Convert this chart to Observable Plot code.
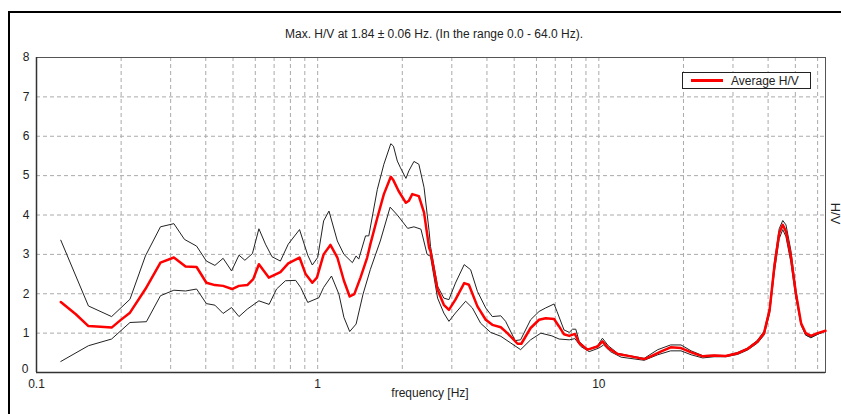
<!DOCTYPE html>
<html>
<head>
<meta charset="utf-8">
<script src="https://cdn.jsdelivr.net/npm/d3@7"></script>
<script src="https://cdn.jsdelivr.net/npm/@observablehq/plot@0.6"></script>
<style>
  html, body { margin: 0; padding: 0; background: #fff; overflow: hidden; }
  #wrap { position: relative; width: 841px; height: 414px; font-family: "Liberation Sans", Arial, sans-serif; }
  #frame { position: absolute; left: 8px; top: 11px; width: 900px; height: 500px; border: 2px solid #000; box-sizing: border-box; pointer-events: none; }
  #title { position: absolute; left: 0; width: 868px; top: 27px; text-align: center; font-size: 12px; color: #222; }
  #legend { position: absolute; left: 682px; top: 72px; width: 129px; height: 17px; box-sizing: border-box; border: 1px solid #222; background: #fff; }
  #legend .sw { position: absolute; left: 8px; top: 6px; width: 32px; height: 3px; background: #ff0000; }
  #legend .tx { position: absolute; left: 48px; top: 1px; font-size: 12px; color: #222; }
  #xlabel { position: absolute; left: 0; width: 860px; top: 386px; text-align: center; font-size: 12px; color: #222; }
  #ylabel { position: absolute; left: 817px; top: 206px; width: 36px; text-align: center; font-size: 13px; color: #222; transform: rotate(90deg); }
  #chart { position: absolute; left: 0; top: 0; }
</style>
</head>
<body>
<div id="wrap">
  <div id="chart"></div>
  <div id="frame"></div>
  <div id="title">Max. H/V at 1.84 ± 0.06 Hz. (In the range 0.0 - 64.0 Hz).</div>
  <div id="legend"><div class="sw"></div><div class="tx">Average H/V</div></div>
  <div id="xlabel">frequency [Hz]</div>
  <div id="ylabel">H/V</div>
</div>
<script>
// Upper (mean + std) curve
const upperF = [0.122,0.153,0.185,0.215,0.244,0.276,0.308,0.336,0.371,0.402,0.431,0.461,0.494,0.525,0.551,0.586,0.618,0.652,0.688,0.737,0.786,0.862,0.922,0.957,1.0,1.05,1.097,1.175,1.24,1.329,1.37,1.40,1.48,1.52,1.63,1.72,1.82,1.86,1.92,1.97,2.06,2.11,2.20,2.29,2.39,2.49,2.52,2.67,2.81,2.93,3.09,3.32,3.50,3.70,3.96,4.18,4.48,4.66,5.04,5.27,5.72,6.13,6.47,6.93,7.10,7.52,7.85,8.06,8.28,8.51,9.12,9.89,10.3,10.8,11.66,13.0,14.5,16.2,18.0,19.6,21.3,23.4,25.7,28.3,31.2,33.8,36.7,38.7,40.5,42.1,43.8,45.1,46.3,48.2,50.2,52.4,54.4,56.8,60,64];
const upperV = [3.36,1.69,1.42,1.86,2.96,3.70,3.78,3.38,3.21,2.83,2.72,2.90,2.58,2.98,2.85,3.02,3.65,3.26,2.94,2.83,3.26,3.63,2.98,2.73,2.92,3.85,4.10,3.34,3.00,2.79,2.96,2.88,3.47,3.47,4.65,5.29,5.81,5.75,5.37,5.20,4.93,5.12,5.36,5.29,4.70,3.60,3.20,2.19,1.89,1.85,2.27,2.74,2.61,2.06,1.64,1.42,1.44,1.30,0.81,0.83,1.34,1.55,1.64,1.74,1.55,1.08,1.02,1.10,1.10,0.79,0.58,0.68,0.87,0.68,0.49,0.42,0.36,0.58,0.70,0.70,0.55,0.43,0.44,0.43,0.51,0.62,0.82,1.05,1.65,2.80,3.65,3.86,3.75,3.10,2.10,1.25,0.95,0.90,0.97,1.06];

// Average H/V curve
const avgF = [0.122,0.138,0.153,0.169,0.185,0.199,0.215,0.244,0.276,0.308,0.339,0.371,0.402,0.431,0.461,0.496,0.525,0.562,0.59,0.618,0.67,0.737,0.786,0.862,0.906,0.957,0.994,1.05,1.11,1.175,1.24,1.30,1.35,1.42,1.50,1.54,1.63,1.72,1.82,1.86,1.94,2.06,2.11,2.17,2.29,2.39,2.49,2.52,2.67,2.81,2.93,3.09,3.32,3.45,3.70,3.96,4.18,4.48,4.73,5.14,5.30,5.72,6.13,6.47,6.93,7.22,7.52,7.85,8.22,8.51,9.12,9.89,10.3,10.8,11.66,13.0,14.5,15.3,16.6,18.0,19.6,21.3,23.4,25.7,28.3,31.2,33.8,36.7,38.7,40.5,42.1,43.8,45.1,46.3,48.2,50.2,52.4,54.4,56.8,60,64];
const avgV = [1.79,1.48,1.18,1.16,1.14,1.33,1.52,2.12,2.79,2.92,2.69,2.68,2.28,2.22,2.20,2.12,2.20,2.22,2.37,2.75,2.41,2.55,2.77,2.92,2.50,2.28,2.41,3.00,3.24,2.92,2.33,1.93,1.99,2.41,2.92,3.26,3.93,4.53,4.97,4.88,4.61,4.31,4.36,4.53,4.48,4.06,3.17,3.08,2.10,1.72,1.59,1.85,2.27,2.23,1.68,1.34,1.21,1.15,1.00,0.73,0.73,1.13,1.34,1.38,1.36,1.17,0.97,0.93,0.98,0.75,0.58,0.66,0.79,0.62,0.47,0.41,0.34,0.41,0.53,0.64,0.62,0.51,0.41,0.43,0.42,0.49,0.60,0.79,1.00,1.59,2.69,3.54,3.75,3.58,2.95,2.02,1.25,1.00,0.93,1.00,1.06];

// Lower (mean - std) curve
const lowerF = [0.122,0.153,0.185,0.215,0.246,0.276,0.308,0.339,0.371,0.402,0.431,0.461,0.494,0.525,0.562,0.618,0.672,0.714,0.768,0.835,0.87,0.922,1.01,1.05,1.12,1.19,1.24,1.30,1.37,1.45,1.54,1.67,1.81,1.92,2.09,2.20,2.33,2.45,2.52,2.67,2.81,2.93,3.09,3.36,3.55,3.80,4.12,4.48,4.86,5.27,5.72,6.22,6.81,7.22,7.85,8.22,8.63,9.24,10.0,10.4,11.0,12.0,14.5,16.2,18.0,19.6,21.3,23.4,25.7,28.3,31.2,33.8,36.7,38.7,40.5,42.1,43.8,45.1,46.3,48.2,50.2,52.4,54.4,56.8,60,64];
const lowerV = [0.28,0.68,0.85,1.27,1.29,1.95,2.09,2.07,2.12,1.75,1.71,1.50,1.65,1.42,1.61,1.82,1.73,2.12,2.33,2.34,2.16,1.78,1.90,2.16,2.45,1.99,1.40,1.04,1.23,1.99,2.62,3.34,4.20,4.00,3.66,3.70,3.64,3.00,2.95,1.89,1.51,1.30,1.51,1.81,1.64,1.25,1.02,0.92,0.75,0.58,0.83,1.00,0.93,0.85,0.83,0.86,0.66,0.53,0.62,0.70,0.53,0.39,0.31,0.45,0.55,0.55,0.45,0.37,0.40,0.40,0.46,0.57,0.75,0.95,1.50,2.55,3.40,3.63,3.45,2.80,1.90,1.20,0.95,0.88,0.97,1.05];

// Axis ticks and grid values
const xTickLabels = [0.1, 1, 10];
const xGrid = [0.2,0.3,0.4,0.5,0.6,0.7,0.8,0.9,1,2,3,4,5,6,7,8,9,10,20,30,40,50,60];
const yTicks = [1,2,3,4,5,6,7,8];
const yZeroTick = [0];
const yGrid = [1,2,3,4,5,6,7];

const toRows = (F, V) => F.map((f, i) => ({f, v: V[i]}));
const upper = toRows(upperF, upperV);
const avg = toRows(avgF, avgV);
const lower = toRows(lowerF, lowerV);

const chart = Plot.plot({
  width: 841,
  height: 414,
  marginLeft: 36,
  marginRight: 16,
  marginTop: 57,
  marginBottom: 42,
  style: { fontFamily: "'Liberation Sans', Arial, sans-serif", fontSize: "12px", color: "#222", background: "transparent", overflow: "visible" },
  x: { type: "log", domain: [0.1, 64] },
  y: { domain: [0, 8] },
  marks: [
    Plot.ruleX(xGrid, { stroke: "#aaa", strokeDasharray: "4,3", strokeWidth: 1 }),
    Plot.ruleY(yGrid, { stroke: "#aaa", strokeDasharray: "4,3", strokeWidth: 1 }),
    Plot.frame({ stroke: "#555", strokeWidth: 1 }),
    Plot.ruleX([0.1], { stroke: "#333", strokeWidth: 1.5 }),
    Plot.ruleY([0], { stroke: "#333", strokeWidth: 1.5 }),
    Plot.axisX(xTickLabels, { tickSize: 0, tickPadding: 7, tickFormat: d => String(d), label: null }),
    Plot.axisY(yTicks, { tickSize: 0, tickPadding: 7, label: null }),
    Plot.axisY(yZeroTick, { tickSize: 0, tickPadding: 8, dy: -3, label: null }),
    Plot.line(upper, { x: "f", y: "v", stroke: "#222", strokeWidth: 1 }),
    Plot.line(lower, { x: "f", y: "v", stroke: "#222", strokeWidth: 1 }),
    Plot.line(avg, { x: "f", y: "v", stroke: "#ff0000", strokeWidth: 2.5 })
  ]
});
document.getElementById("chart").appendChild(chart);
</script>
</body>
</html>
